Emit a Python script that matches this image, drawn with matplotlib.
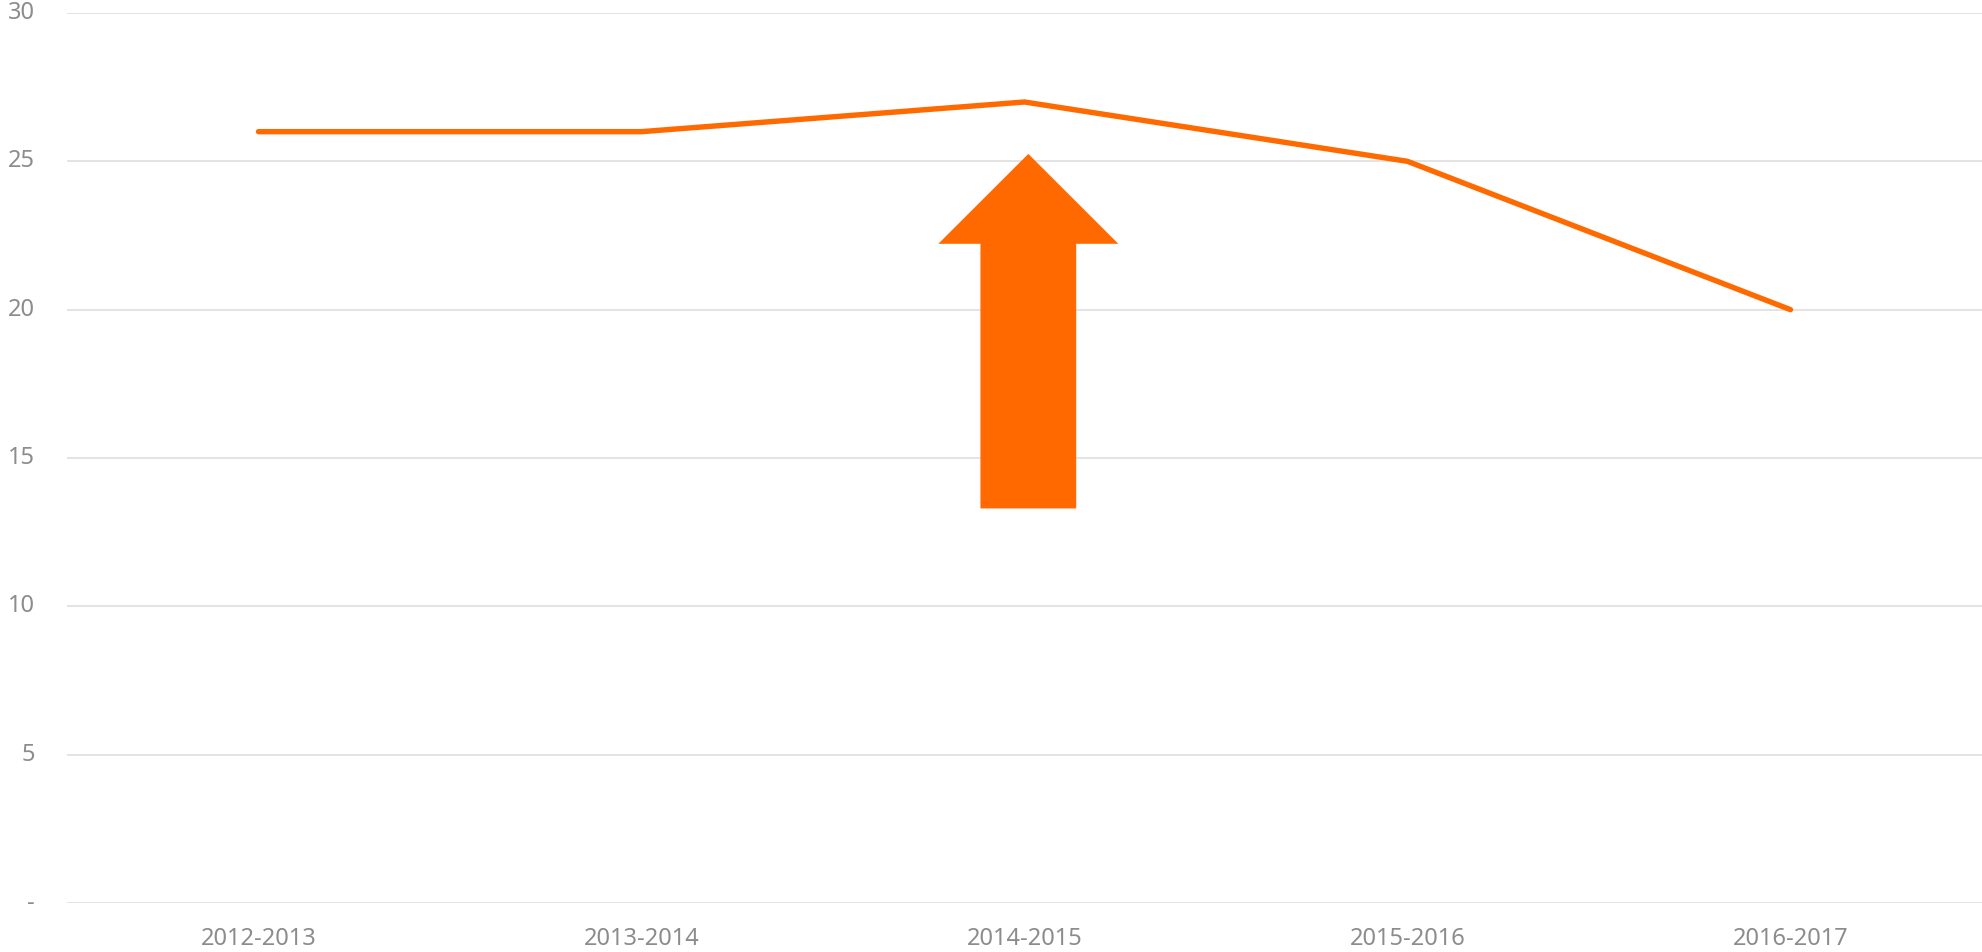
import matplotlib.pyplot as plt
from matplotlib.patches import FancyArrow

seasons = ['2012-2013', '2013-2014', '2014-2015', '2015-2016', '2016-2017']
values = [26, 26, 27, 25, 20]
yticks = [0, 5, 10, 15, 20, 25, 30]
ytick_labels = ['-', '5', '10', '15', '20', '25', '30']

# big arrow under 2014-2015
arrow_x = 2.01
arrow_bottom = 13.3
arrow_top = 25.25

orange = '#FF6A00'
plt.rcParams['font.family'] = ['Noto Sans', 'DejaVu Sans']

fig = plt.figure(figsize=(19.82, 9.52), dpi=100)
ax = fig.add_axes([67 / 1982, 1 - 903 / 952, 1 - 67 / 1982, (903 - 13) / 952])

x = range(len(seasons))
ax.plot(x, values, color=orange, linewidth=3.9, solid_capstyle='round',
        solid_joinstyle='miter', zorder=3)

arr = FancyArrow(arrow_x, arrow_bottom, 0, arrow_top - arrow_bottom,
                 width=0.25, head_width=0.47, head_length=3.03,
                 length_includes_head=True, color='#FF6900', linewidth=0, zorder=4)
ax.add_patch(arr)

ax.set_xlim(-0.5, len(seasons) - 0.5)
ax.set_ylim(0, 30)
ax.set_xticks(list(x))
ax.set_xticklabels(seasons)
ax.set_yticks(yticks)
ax.set_yticklabels(ytick_labels)
ax.grid(axis='y', color='#e3e3e3', linewidth=1.4)
ax.set_axisbelow(True)
for s in ax.spines.values():
    s.set_visible(False)
ax.tick_params(axis='both', length=0, labelcolor='#8c8c8c', labelsize=17)
ax.tick_params(axis='y', pad=23)
ax.tick_params(axis='x', pad=17)
for lbl in ax.get_yticklabels():
    lbl.set_verticalalignment('center')

fig.savefig('out.png', dpi=100)
